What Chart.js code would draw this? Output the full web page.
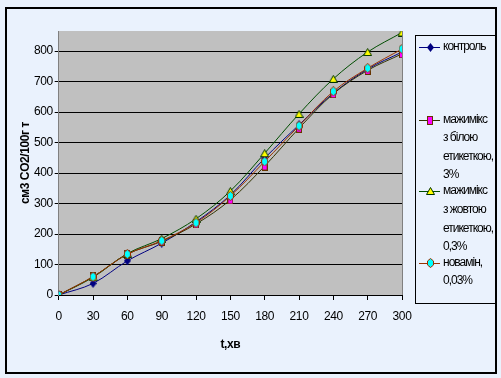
<!DOCTYPE html>
<html lang="uk">
<head>
  <meta charset="UTF-8">
  <title>CO2</title>
  <script src="https://cdn.jsdelivr.net/npm/chart.js"></script>
  <style>
    body { margin: 0; padding: 0; background: #ffffff; }
    #chart { display: block; }
  </style>
</head>
<body>
  <canvas id="chart" width="501" height="378"></canvas>
  <script>
    // час, хв
    const times = [0, 30, 60, 90, 120, 150, 180, 210, 240, 270, 300];
    // см3 CO2/100г т
    const kontrol = [0, 38, 112, 170, 240, 328, 449, 558, 662, 741, 797];
    const bilaEtyketka = [0, 60, 134, 176, 233, 312, 423, 547, 660, 737, 791];
    const zhovtaEtyketka = [0, 58, 136, 185, 250, 341, 465, 594, 709, 797, 861];
    const novamin = [0, 60, 134, 178, 237, 325, 438, 555, 668, 744, 807];
    const yTicks = [0, 100, 200, 300, 400, 500, 600, 700, 800];

    const legendLines = [
      ['контроль'],
      ['мажимікс', 'з білою', 'етикеткою,', '3%'],
      ['мажимікс', 'з жовтою', 'етикеткою,', '0,3%'],
      ['новамін,', '0,03%']
    ];

    const toPts = arr => arr.map((v, i) => ({ x: times[i], y: v }));

    // маркери як в Excel (трохи витягнуті вгору)
    function marker(w, h, draw) {
      const cv = document.createElement('canvas');
      cv.width = w;
      cv.height = h;
      draw(cv.getContext('2d'), w, h);
      return cv;
    }
    const diamondNavy = marker(7, 9, (c, w, h) => {
      c.fillStyle = '#000080';
      c.beginPath();
      c.moveTo(w / 2, 0); c.lineTo(w, h / 2); c.lineTo(w / 2, h); c.lineTo(0, h / 2);
      c.closePath(); c.fill();
    });
    const rectMagenta = marker(6, 9, (c, w, h) => {
      c.fillStyle = '#663300';
      c.fillRect(0, 0, w, h);
      c.fillStyle = '#ff00ff';
      c.fillRect(1, 1, w - 2, h - 2);
    });
    const triYellow = marker(9, 8, (c, w, h) => {
      c.fillStyle = '#ffff00';
      c.strokeStyle = '#003300';
      c.lineWidth = 1;
      c.beginPath();
      c.moveTo(w / 2, 0.5); c.lineTo(w - 0.5, h - 0.5); c.lineTo(0.5, h - 0.5);
      c.closePath(); c.fill(); c.stroke();
    });
    const diamondCyan = marker(7, 10, (c, w, h) => {
      c.fillStyle = '#00ffff';
      c.strokeStyle = '#993300';
      c.lineWidth = 1;
      c.beginPath();
      c.moveTo(w / 2, 0.5); c.lineTo(w - 0.5, 3); c.lineTo(w - 0.5, h - 3);
      c.lineTo(w / 2, h - 0.5); c.lineTo(0.5, h - 3); c.lineTo(0.5, 3);
      c.closePath(); c.fill(); c.stroke();
    });

    // фон діаграми, рамка, сіра область побудови
    const backgroundPlugin = {
      id: 'bg',
      beforeDraw(chart) {
        const c = chart.ctx;
        const a = chart.chartArea;
        c.save();
        c.fillStyle = '#eaf2fd';
        c.fillRect(0, 0, chart.width, chart.height);
        c.strokeStyle = '#000';
        c.lineWidth = 2;
        c.strokeRect(6, 8, 490, 365);
        c.fillStyle = '#c0c0c0';
        c.fillRect(a.left, a.top, a.right - a.left, a.bottom - a.top);
        c.strokeStyle = '#808080';
        c.lineWidth = 1;
        c.beginPath();
        c.moveTo(a.right + 0.5, a.top);
        c.lineTo(a.right + 0.5, a.bottom);
        c.stroke();
        c.restore();
        c.letterSpacing = '-0.4px';
      }
    };

    // легенда праворуч, як в Excel
    const legendPlugin = {
      id: 'excelLegend',
      afterDraw(chart) {
        const c = chart.ctx;
        const rows = [[47], [120, 138, 157, 175], [191, 210, 229, 247], [263, 281]];
        c.save();
        c.fillStyle = '#eaf2fd';
        c.fillRect(416, 36, 80, 268);
        c.strokeStyle = '#000';
        c.lineWidth = 1;
        c.strokeRect(415.5, 35.5, 80, 268);
        c.font = '12px "Liberation Sans", Arial, sans-serif';
        c.letterSpacing = '-1px';
        c.textBaseline = 'middle';
        chart.data.datasets.forEach((ds, i) => {
          const y = rows[i][0];
          c.strokeStyle = ds.borderColor;
          c.lineWidth = 1;
          c.beginPath();
          c.moveTo(419, y + 0.5);
          c.lineTo(440, y + 0.5);
          c.stroke();
          const img = ds.pointStyle;
          c.drawImage(img, Math.round(430 - img.width / 2), Math.round(y - img.height / 2));
          c.fillStyle = '#000';
          legendLines[i].forEach((t, j) => c.fillText(t, 443, rows[i][j]));
        });
        c.restore();
      }
    };

    const common = { borderWidth: 1, tension: 0.35, fill: false, pointRadius: 4 };

    new Chart(document.getElementById('chart'), {
      type: 'line',
      data: {
        datasets: [
          { ...common, label: legendLines[0].join(' '), data: toPts(kontrol), order: 4,
            borderColor: '#000080', pointStyle: diamondNavy },
          { ...common, label: legendLines[1].join(' '), data: toPts(bilaEtyketka), order: 3,
            borderColor: '#333300', pointStyle: rectMagenta },
          { ...common, label: legendLines[2].join(' '), data: toPts(zhovtaEtyketka), order: 2,
            borderColor: '#004d00', pointStyle: triYellow },
          { ...common, label: legendLines[3].join(' '), data: toPts(novamin), order: 1,
            borderColor: '#993300', pointStyle: diamondCyan }
        ]
      },
      options: {
        responsive: false,
        animation: false,
        layout: { padding: { left: 10, right: 99, top: 31, bottom: 10 } },
        plugins: { legend: { display: false }, tooltip: { enabled: false } },
        scales: {
          x: {
            type: 'linear',
            min: 0,
            max: 300,
            afterBuildTicks: s => { s.ticks = times.map(v => ({ value: v })); },
            afterFit: s => { s.height = 73; },
            grid: { drawOnChartArea: false, tickLength: 5, color: '#000' },
            border: { color: '#000', width: 1 },
            ticks: { color: '#000', padding: 9, maxRotation: 0,
                     font: { family: '"Liberation Sans", Arial, sans-serif', size: 12 } },
            title: { display: true, text: 't,хв', color: '#000', padding: { top: 4, bottom: 16 },
                     font: { family: '"Liberation Sans", Arial, sans-serif', size: 12, weight: 'bold' } }
          },
          y: {
            min: 0,
            max: 866,
            afterBuildTicks: s => { s.ticks = yTicks.map(v => ({ value: v })); },
            afterFit: s => { s.width = 48.7; },
            grid: { color: '#000', tickLength: 4, tickColor: '#000' },
            border: { color: '#808080', width: 1 },
            ticks: { color: '#000', padding: 2,
                     font: { family: '"Liberation Sans", Arial, sans-serif', size: 12 } },
            title: { display: true, text: 'см3 CO2/100г т', color: '#000', padding: { top: 8, bottom: 4 },
                     font: { family: '"Liberation Sans", Arial, sans-serif', size: 12, weight: 'bold' } }
          }
        }
      },
      plugins: [backgroundPlugin, legendPlugin]
    });
  </script>
</body>
</html>
